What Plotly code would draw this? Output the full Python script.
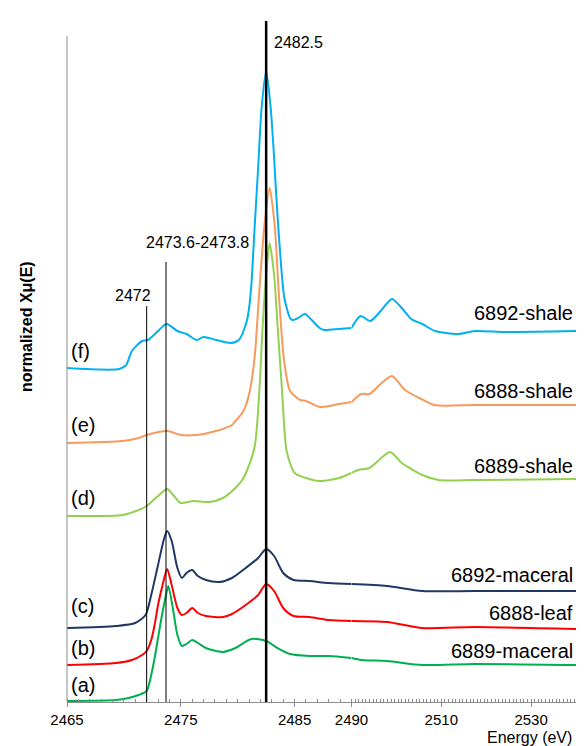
import plotly.graph_objects as go

# ---------------- data (energy in eV, stacked normalized absorbance) ----------------
e_a = [2465.0, 2469.3, 2470.4, 2471.3, 2472.0, 2472.4, 2472.7, 2473.0, 2473.3, 2473.7, 2473.9, 2474.3,
       2474.7, 2475.1, 2475.5, 2476.0, 2476.5, 2477.2, 2478.7, 2479.8, 2481.2, 2482.5, 2483.5, 2484.6,
       2486.3, 2488.0, 2490.0, 2492.2, 2497.9, 2505.8, 2517.4, 2540.0]
v_a = [0.01, 0.02, 0.04, 0.07, 0.11, 0.27, 0.44, 0.64, 0.84, 1.07, 1.16, 0.94,
       0.67, 0.56, 0.58, 0.62, 0.59, 0.54, 0.50, 0.54, 0.63, 0.61, 0.54, 0.48,
       0.46, 0.46, 0.44, 0.42, 0.41, 0.37, 0.38, 0.37]

e_b = [2465.0, 2469.3, 2470.7, 2471.6, 2472.0, 2472.4, 2472.7, 2473.0, 2473.4, 2473.8, 2474.2, 2474.7,
       2475.1, 2475.5, 2476.0, 2476.5, 2477.2, 2478.7, 2479.5, 2480.7, 2481.8, 2482.5, 2483.2, 2484.0,
       2484.9, 2486.3, 2488.0, 2490.0, 2497.9, 2505.8, 2517.4, 2540.0]
v_b = [0.37, 0.39, 0.42, 0.47, 0.51, 0.62, 0.77, 0.97, 1.17, 1.33, 1.17, 0.94,
       0.87, 0.89, 0.94, 0.89, 0.86, 0.85, 0.88, 0.97, 1.07, 1.18, 1.11, 0.94,
       0.86, 0.85, 0.82, 0.81, 0.80, 0.74, 0.75, 0.73]

e_c = [2465.0, 2469.3, 2471.0, 2471.9, 2472.4, 2473.0, 2473.5, 2473.8, 2474.2, 2474.7, 2475.1, 2475.5,
       2476.0, 2476.5, 2477.2, 2478.4, 2479.5, 2480.7, 2481.8, 2482.5, 2483.2, 2484.0, 2484.9, 2486.3,
       2488.0, 2490.0, 2497.9, 2505.8, 2517.4, 2540.0]
v_c = [0.74, 0.76, 0.79, 0.87, 1.07, 1.37, 1.62, 1.71, 1.61, 1.34, 1.24, 1.29,
       1.32, 1.26, 1.22, 1.20, 1.24, 1.34, 1.44, 1.53, 1.46, 1.29, 1.22, 1.21,
       1.19, 1.18, 1.16, 1.11, 1.11, 1.11]

e_d = [2465.0, 2469.9, 2471.3, 2472.0, 2473.0, 2473.8, 2474.4, 2475.0, 2476.1, 2477.5, 2478.7, 2479.8,
       2480.4, 2480.8, 2481.5, 2481.9, 2482.2, 2482.5, 2482.8, 2483.2, 2483.5, 2483.9, 2484.3, 2485.0,
       2486.0, 2487.2, 2488.9, 2490.0, 2491.5, 2494.0, 2498.6, 2501.2, 2505.8, 2509.4, 2517.4, 2540.0]
v_d = [1.86, 1.87, 1.92, 1.96, 2.06, 2.13, 2.06, 1.99, 2.01, 2.00, 2.04, 2.14,
       2.22, 2.31, 2.56, 3.11, 3.77, 4.27, 4.59, 4.27, 3.77, 3.11, 2.51, 2.29,
       2.24, 2.21, 2.24, 2.29, 2.32, 2.34, 2.50, 2.39, 2.27, 2.22, 2.22, 2.23]

e_e = [2465.0, 2469.9, 2471.3, 2472.0, 2473.8, 2475.0, 2476.4, 2478.1, 2479.5, 2479.8, 2480.4, 2480.7,
       2481.1, 2481.5, 2481.9, 2482.35, 2482.8, 2483.25, 2483.6, 2484.05, 2484.6, 2485.5, 2486.0, 2487.2,
       2488.9, 2490.0, 2492.2, 2494.0, 2496.5, 2499.0, 2501.9, 2505.1, 2508.4, 2517.4, 2540.0]
v_e = [2.59, 2.61, 2.64, 2.67, 2.71, 2.67, 2.67, 2.71, 2.77, 2.81, 2.89, 2.96,
       3.13, 3.46, 4.11, 4.77, 5.14, 4.77, 4.11, 3.44, 3.11, 3.02, 3.01, 2.95,
       2.98, 3.00, 3.08, 3.08, 3.18, 3.26, 3.12, 3.04, 2.97, 2.97, 2.97]

e_f = [2465.0, 2469.6, 2470.2, 2470.7, 2471.6, 2472.1, 2473.0, 2473.75, 2474.7, 2475.5, 2476.4, 2477.0,
       2478.1, 2479.4, 2480.1, 2480.8, 2481.0, 2481.2, 2481.5, 2481.8, 2482.1, 2482.5, 2482.9, 2483.2,
       2483.5, 2484.1, 2484.6, 2484.8, 2485.3, 2485.9, 2486.5, 2487.2, 2487.6, 2488.9, 2490.0, 2492.0,
       2494.2, 2496.5, 2499.0, 2500.8, 2503.3, 2505.8, 2508.6, 2513.7, 2517.4, 2524.5, 2540.0]
v_f = [3.34, 3.33, 3.37, 3.51, 3.61, 3.62, 3.71, 3.78, 3.71, 3.68, 3.62, 3.65,
       3.62, 3.59, 3.62, 3.81, 3.94, 4.17, 4.77, 5.35, 5.94, 6.31, 5.94, 5.44,
       4.86, 4.04, 3.84, 3.82, 3.84, 3.88, 3.82, 3.74, 3.72, 3.73, 3.74, 3.86,
       3.81, 3.91, 4.03, 3.96, 3.83, 3.78, 3.71, 3.68, 3.71, 3.70, 3.71]

series_names = ["6889-maceral", "6888-leaf", "6892-maceral", "6889-shale", "6888-shale", "6892-shale"]
series_tags = ["(a)", "(b)", "(c)", "(d)", "(e)", "(f)"]
series_colors = ["#00B050", "#FF0000", "#1F3864", "#92D050", "#F79A5C", "#00B0F0"]
tag_levels = [0.17, 0.54, 0.96, 2.04, 2.77, 3.51]
name_levels = [0.51, 0.89, 1.27, 2.36, 3.11, 3.89]

marker_energies = [2472.0, 2473.7, 2482.5]
marker_tops = [3.96, 4.40, 6.81]
marker_labels = ["2472", "2473.6-2473.8", "2482.5"]

tick_low = [2465, 2475, 2485, 2490]
tick_high = [2510, 2530]
x_break = 2490.0
x_min, x_max = 2465.0, 2540.0
y_max = 6.81

energies = [e_a, e_b, e_c, e_d, e_e, e_f]
values = [v_a, v_b, v_c, v_d, v_e, v_f]

# ---------------- figure ----------------
fig = go.Figure()
for e, v, col, nm in zip(energies, values, series_colors, series_names):
    lo = [(x, y) for x, y in zip(e, v) if x <= x_break]
    hi = [(x, y) for x, y in zip(e, v) if x >= x_break]
    fig.add_trace(go.Scatter(x=[p[0] for p in lo], y=[p[1] for p in lo], mode="lines",
                             line=dict(color=col, width=2, shape="spline", smoothing=0.7),
                             xaxis="x", yaxis="y", name=nm, hoverinfo="skip"))
    fig.add_trace(go.Scatter(x=[p[0] for p in hi], y=[p[1] for p in hi], mode="lines",
                             line=dict(color=col, width=2, shape="spline", smoothing=0.7),
                             xaxis="x2", yaxis="y", name=nm, hoverinfo="skip"))

frac = (x_break - x_min) * 11.76 / 526.0
axis_col = "#8c8c8c"
tickfont = dict(family="Arial, Liberation Sans, sans-serif", size=15, color="black")

fig.update_layout(
    width=587, height=746,
    margin=dict(l=59, r=2, t=13, b=52),
    paper_bgcolor="white", plot_bgcolor="white",
    showlegend=False,
    font=dict(family="Arial, Liberation Sans, sans-serif", color="black"),
    xaxis=dict(domain=[0, frac], range=[x_min, x_break], anchor="y",
               showline=True, linecolor=axis_col, linewidth=1, showgrid=False, zeroline=False,
               tickmode="array", tickvals=tick_low, ticktext=[str(t) for t in tick_low],
               ticks="outside", ticklen=4, tickcolor=axis_col, tickfont=tickfont,
               minor=dict(tickmode="linear", tick0=x_min, dtick=1, ticks="inside", ticklen=3,
                          tickcolor=axis_col)),
    xaxis2=dict(domain=[frac, 1], range=[x_break, x_max], anchor="y",
                showline=True, linecolor=axis_col, linewidth=1, showgrid=False, zeroline=False,
                tickmode="array", tickvals=tick_high, ticktext=[str(t) for t in tick_high],
                ticks="outside", ticklen=4, tickcolor=axis_col, tickfont=tickfont,
                minor=dict(tickmode="linear", tick0=x_break, dtick=0.8, ticks="inside", ticklen=3,
                           tickcolor=axis_col)),
    yaxis=dict(range=[0, y_max], visible=False, showgrid=False, zeroline=False),
)

shapes = [dict(type="line", xref="paper", yref="paper", x0=0, x1=0, y0=0, y1=666 / 681,
               line=dict(color=axis_col, width=1))]
for xe, top, w in zip(marker_energies, marker_tops, [1, 1, 2.5]):
    shapes.append(dict(type="line", xref="x", yref="y", x0=xe, x1=xe, y0=0, y1=top,
                       line=dict(color="black", width=w), layer="above"))
fig.update_layout(shapes=shapes)

ann = []
lab_font = dict(family="Arial, Liberation Sans, sans-serif", size=20, color="black")
for tag, lvl in zip(series_tags, tag_levels):
    ann.append(dict(text=tag, xref="paper", x=0, xshift=2, xanchor="left", yref="y", y=lvl,
                    yanchor="middle", showarrow=False, font=lab_font))
for nm, lvl in zip(series_names, name_levels):
    ann.append(dict(text=nm, xref="paper", x=1, xshift=-1, xanchor="right", yref="y", y=lvl,
                    yanchor="middle", showarrow=False, font=lab_font))

small = dict(family="Arial, Liberation Sans, sans-serif", size=16, color="black")
ann.append(dict(text=marker_labels[0], xref="x", x=marker_energies[0], xshift=-14, xanchor="center",
                yref="y", y=4.065, yanchor="middle", showarrow=False, font=small))
ann.append(dict(text=marker_labels[1], xref="x", x=marker_energies[1], xshift=31, xanchor="center",
                yref="y", y=4.60, yanchor="middle", showarrow=False, font=small))
ann.append(dict(text=marker_labels[2], xref="x", x=marker_energies[2], xshift=6, xanchor="left",
                yref="y", y=6.60, yanchor="middle", showarrow=False, font=small))

ann.append(dict(text="<b>normalized Xμ(E)</b>", xref="paper", x=0, xshift=-41, xanchor="center",
                yref="y", y=3.75, yanchor="middle", textangle=-90, showarrow=False,
                font=dict(family="Arial, Liberation Sans, sans-serif", size=16, color="black")))
ann.append(dict(text="Energy (eV)", xref="paper", x=1, xshift=-2, xanchor="right",
                yref="paper", y=-35 / 681, yanchor="middle", showarrow=False,
                font=dict(family="Arial, Liberation Sans, sans-serif", size=16, color="black")))
fig.update_layout(annotations=ann)

fig.write_html("out.html")
